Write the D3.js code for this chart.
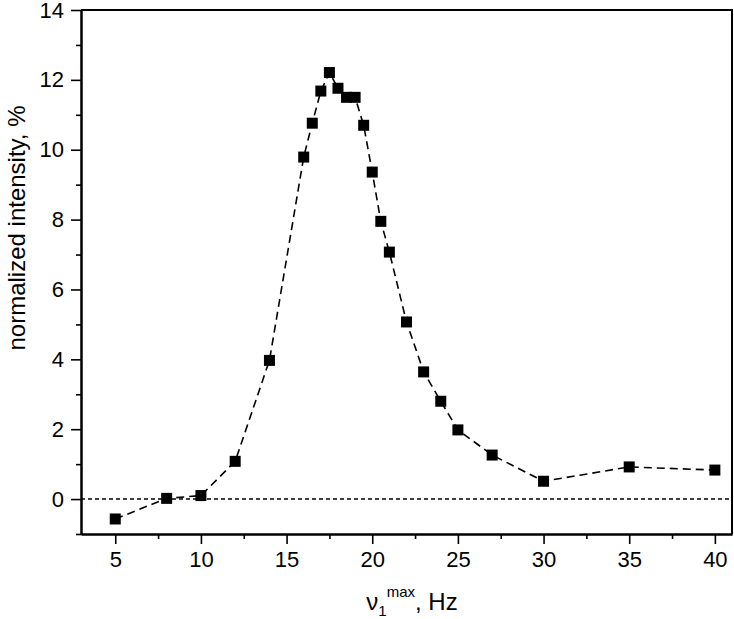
<!DOCTYPE html>
<html><head><meta charset="utf-8">
<script src="https://cdn.jsdelivr.net/npm/d3@7"></script>
<style>
html,body{margin:0;padding:0;background:#fff;}
text{font-family:Arial,"Liberation Sans",sans-serif;fill:#000;}
</style></head>
<body>
<svg id="chart" width="734" height="619"></svg>
<script>
const freq = [5, 8, 10, 12, 14, 16, 16.5, 17, 17.5, 18, 18.5, 19, 19.5, 20, 20.5, 21, 22, 23, 24, 25, 27, 30, 35, 40];
const intensity = [-0.57, 0.02, 0.1, 1.08, 3.97, 9.79, 10.76, 11.68, 12.21, 11.76, 11.5, 11.5, 10.7, 9.36, 7.95, 7.07, 5.07, 3.64, 2.8, 1.98, 1.26, 0.51, 0.92, 0.83];
const xTicks = [5, 10, 15, 20, 25, 30, 35, 40];
const yTicks = [0, 2, 4, 6, 8, 10, 12, 14];
const xMinor = [7.5, 12.5, 17.5, 22.5, 27.5, 32.5, 37.5];
const yMinor = [-1, 1, 3, 5, 7, 9, 11, 13];

const svg = d3.select("#chart");
const L = 81, R = 732, T = 10, B = 534;
const x = d3.scaleLinear().domain([3, 41]).range([L, R]);
const y = d3.scaleLinear().domain([-1, 14]).range([B, T]);

// zero line
svg.append("line").attr("x1", L).attr("x2", R).attr("y1", y(0)).attr("y2", y(0))
  .attr("stroke", "#000").attr("stroke-width", 1.4).attr("stroke-dasharray", "4,3");

// frame top/right
svg.append("path").attr("d", `M${L},${T}H${R}V${B}`).attr("fill", "none")
  .attr("stroke", "#000").attr("stroke-width", 2);

// axes
const xAxis = svg.append("g").attr("transform", `translate(0,${B})`)
  .call(d3.axisBottom(x).tickValues(xTicks).tickSize(10).tickPadding(7).tickSizeOuter(0));
const xAxisMinor = svg.append("g").attr("transform", `translate(0,${B})`)
  .call(d3.axisBottom(x).tickValues(xMinor).tickSize(5).tickFormat("").tickSizeOuter(0));
const yAxis = svg.append("g").attr("transform", `translate(${L},0)`)
  .call(d3.axisLeft(y).tickValues(yTicks).tickSize(10).tickPadding(7).tickSizeOuter(0));
const yAxisMinor = svg.append("g").attr("transform", `translate(${L},0)`)
  .call(d3.axisLeft(y).tickValues(yMinor).tickSize(5).tickFormat("").tickSizeOuter(0));
[xAxis, xAxisMinor, yAxis, yAxisMinor].forEach(g => {
  g.attr("font-size", null).attr("font-family", null);
  g.selectAll("path.domain").attr("stroke", "#000").attr("stroke-width", 2);
  g.selectAll(".tick line").attr("stroke", "#000").attr("stroke-width", 1.6);
  g.selectAll("text").style("font-size", "22px");
});

// data line
const line = d3.line().x((d, i) => x(freq[i])).y(d => y(d));
svg.append("path").datum(intensity).attr("d", line).attr("fill", "none")
  .attr("stroke", "#000").attr("stroke-width", 1.6).attr("stroke-dasharray", "8,5");

// squares
const s = 11;
svg.append("g").selectAll("rect").data(intensity).join("rect")
  .attr("x", (d, i) => x(freq[i]) - s / 2).attr("y", d => y(d) - s / 2)
  .attr("width", s).attr("height", s).attr("fill", "#000");

// axis titles
svg.append("text").attr("transform", "translate(25,228) rotate(-90)")
  .attr("text-anchor", "middle").style("font-size", "24px").text("normalized intensity, %");

const xt = svg.append("text").attr("x", 412).attr("y", 610).attr("text-anchor", "middle")
  .style("font-size", "24px");
xt.append("tspan").text("ν");
xt.append("tspan").attr("dy", 6).style("font-size", "15px").text("1");
xt.append("tspan").attr("dy", -19).style("font-size", "15px").text("max");
xt.append("tspan").attr("dy", 13).text(", Hz");
</script>
</body></html>
